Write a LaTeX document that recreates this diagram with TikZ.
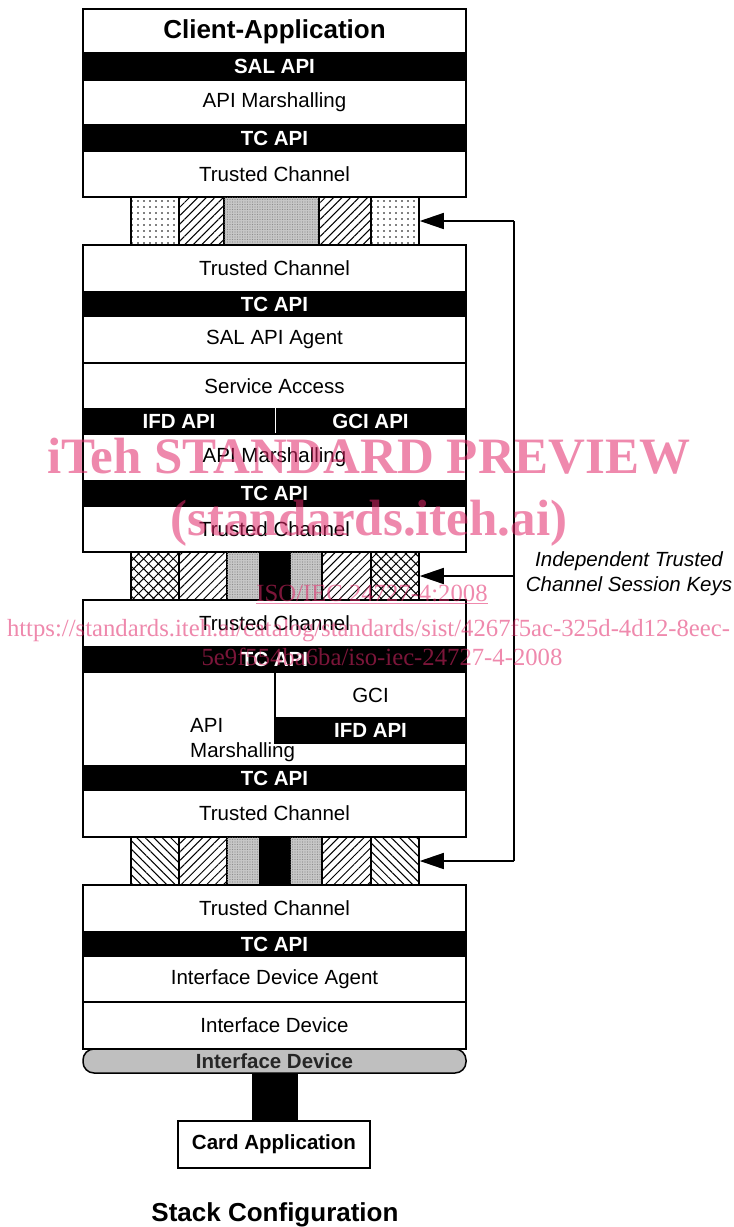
\documentclass[tikz,border=0pt]{standalone}
\usepackage{fontspec}
\setmainfont{Liberation Sans}
\newfontfamily\wmfont{Liberation Serif}
\usetikzlibrary{patterns.meta,arrows.meta}
\definecolor{wm}{RGB}{225,40,105}
\newcommand\regf{\fontsize{20.5}{25}\selectfont}
\newcommand\bigf{\fontsize{26}{30}\selectfont\bfseries}
\newcommand\barf{\fontsize{20.5}{25}\selectfont\bfseries}
\begin{document}
\begin{tikzpicture}[x=1pt,y=-1pt,
  layer/.style={draw, line width=1.5pt, fill=white, minimum width=383pt, inner sep=0pt, font=\regf},
  apibar/.style={draw, line width=1.5pt, fill=black, text=white, minimum width=383pt, inner sep=0pt, font=\barf},
  cell/.style={draw, line width=1.5pt, inner sep=0pt, minimum height=48pt, fill=white},
  dotcell/.style={cell, postaction={pattern={Dots[distance=6pt,radius=0.8pt]}, pattern color=black}},
  necell/.style={cell, postaction={pattern={Lines[angle=45,distance=6pt,line width=1pt]}}},
  nwcell/.style={cell, postaction={pattern={Lines[angle=-45,distance=6pt,line width=1pt]}}},
  xcell/.style={cell, postaction={pattern={Hatch[angle=45,distance=7pt,line width=1pt]}}},
  graycell/.style={cell, fill=black!22, postaction={pattern={Dots[distance=2.5pt,radius=0.6pt]}, pattern color=black!45}},
  blackcell/.style={cell, fill=black},
  keyarrow/.style={line width=1.5pt, -{Triangle[length=24pt,width=16pt]}},
  wmtext/.style={text=wm, text opacity=0.55, inner sep=0pt}
]
\useasboundingbox (0,0) rectangle (734,1227);

% ---------- Block 1 ----------
\node[layer, minimum height=45pt, font=\bigf] (ca) at (274.5,31.5) {Client-Application};
\node[apibar, minimum height=27pt] (sal1) at (274.5,66.5) {SAL API};
\node[layer, minimum height=45pt] (am1) at (274.5,102.5) {API Marshalling};
\node[apibar, minimum height=26pt] (tc1) at (274.5,138) {TC API};
\node[layer, minimum height=46pt] (tch1) at (274.5,174) {Trusted Channel};

% ---------- Strip 1 ----------
\node[dotcell, minimum width=48pt] (s1a) at (155,221) {};
\node[necell, minimum width=45pt] (s1b) at (201.5,221) {};
\node[graycell, minimum width=95pt] (s1c) at (271.5,221) {};
\node[necell, minimum width=52pt] (s1d) at (345,221) {};
\node[dotcell, minimum width=48pt] (s1e) at (395,221) {};

% ---------- Block 2 ----------
\node[layer, minimum height=47pt] (tch2) at (274.5,268.5) {Trusted Channel};
\node[apibar, minimum height=24pt] (tc2) at (274.5,304) {TC API};
\node[layer, minimum height=47pt] (salag) at (274.5,339.5) {SAL API Agent};
\node[layer, minimum height=46pt] (sa) at (274.5,386) {Service Access};
\node[apibar, minimum width=192pt, minimum height=25pt] (ifd1) at (179,421.5) {IFD API};
\node[apibar, minimum width=191pt, minimum height=25pt] (gci1) at (370.5,421.5) {GCI API};
\draw[white, line width=1pt] (ifd1.north east) -- (ifd1.south east);
\node[layer, minimum height=47pt] (am2) at (274.5,457.5) {API Marshalling};
\node[apibar, minimum height=25pt] (tc3) at (274.5,493.5) {TC API};
\node[layer, minimum height=46pt] (tch3) at (274.5,529) {Trusted Channel};

% ---------- Strip 2 ----------
\node[xcell, minimum width=48pt] (s2a) at (155,576) {};
\node[necell, minimum width=48pt] (s2b) at (203,576) {};
\node[graycell, minimum width=33pt] (s2c) at (243.5,576) {};
\node[blackcell, minimum width=30pt] (s2d) at (275,576) {};
\node[graycell, minimum width=32pt] (s2e) at (306,576) {};
\node[necell, minimum width=49pt] (s2f) at (346.5,576) {};
\node[xcell, minimum width=48pt] (s2g) at (395,576) {};

% ---------- Block 3 ----------
\node[layer, minimum height=47pt] (tch4) at (274.5,623.5) {Trusted Channel};
\node[apibar, minimum height=25pt] (tc4) at (274.5,659.5) {TC API};
\node[layer, minimum height=94pt] (am3) at (274.5,719) {};
\node[font=\regf, align=left, anchor=west, inner sep=0pt] (am3t) at (190,740.5) {API\\Marshalling};
\node[layer, minimum width=191pt, minimum height=46pt] (gci2) at (370.5,695) {GCI};
\node[apibar, minimum width=191pt, minimum height=25pt] (ifd2) at (370.5,730.5) {IFD API};
\node[apibar, minimum height=24pt] (tc5) at (274.5,778) {TC API};
\node[layer, minimum height=47pt] (tch5) at (274.5,813.5) {Trusted Channel};

% ---------- Strip 3 ----------
\node[nwcell, minimum width=48pt] (s3a) at (155,861) {};
\node[necell, minimum width=48pt] (s3b) at (203,861) {};
\node[graycell, minimum width=33pt] (s3c) at (243.5,861) {};
\node[blackcell, minimum width=30pt] (s3d) at (275,861) {};
\node[graycell, minimum width=32pt] (s3e) at (306,861) {};
\node[necell, minimum width=49pt] (s3f) at (346.5,861) {};
\node[nwcell, minimum width=48pt] (s3g) at (395,861) {};

% ---------- Block 4 ----------
\node[layer, minimum height=47pt] (tch6) at (274.5,908.5) {Trusted Channel};
\node[apibar, minimum height=24pt] (tc6) at (274.5,944) {TC API};
\node[layer, minimum height=46pt] (ida) at (274.5,979) {Interface Device Agent};
\node[layer, minimum height=47pt] (idv) at (274.5,1025.5) {Interface Device};

\node[draw, line width=1.5pt, fill=black!25, rounded corners=11pt, minimum width=383pt, minimum height=24pt, inner sep=0pt, font=\barf, text=black!85] (pill) at (274.5,1061) {Interface Device};
\node[fill=black, minimum width=46pt, minimum height=48pt, inner sep=0pt] (cc) at (275,1097) {};
\node[draw, line width=1.5pt, fill=white, minimum width=192pt, minimum height=47pt, inner sep=0pt, font=\barf] (card) at (274,1144.5) {Card Application};

\node[font=\bigf, inner sep=0pt] (title) at (275,1215) {Stack Configuration};

% ---------- Key arrows ----------
\coordinate (k1) at (514,221);
\coordinate (k2) at (514,576);
\coordinate (k3) at (514,861);
\draw[line width=1.5pt] (k1) -- (k3);
\draw[keyarrow] (k1) -- (s1e.east);
\draw[keyarrow] (k2) -- (s2g.east);
\draw[keyarrow] (k3) -- (s3g.east);
\node[font=\regf\itshape, align=center, inner sep=0pt] (keys) at (629,573.5) {Independent Trusted\\Channel Session Keys};

% ---------- Watermark ----------
\node[wmtext, font=\wmfont\bfseries\fontsize{51}{55}\selectfont, anchor=base] (wm1) at (369,473) {iTeh STANDARD PREVIEW};
\node[wmtext, font=\wmfont\bfseries\fontsize{51}{55}\selectfont, anchor=base] (wm2) at (369,535) {(standards.iteh.ai)};
\node[wmtext, font=\wmfont\fontsize{24.7}{28}\selectfont, anchor=base] (wm3) at (372,601) {\underline{ISO/IEC 24727-4:2008}};
\node[wmtext, font=\wmfont\fontsize{24.7}{28}\selectfont, anchor=base] (wm4) at (368.5,636) {https://standards.iteh.ai/catalog/standards/sist/4267f5ac-325d-4d12-8eec-};
\node[wmtext, font=\wmfont\fontsize{24.7}{28}\selectfont, anchor=base] (wm5) at (382,665) {5e9f554ba6ba/iso-iec-24727-4-2008};
\end{tikzpicture}
\end{document}
